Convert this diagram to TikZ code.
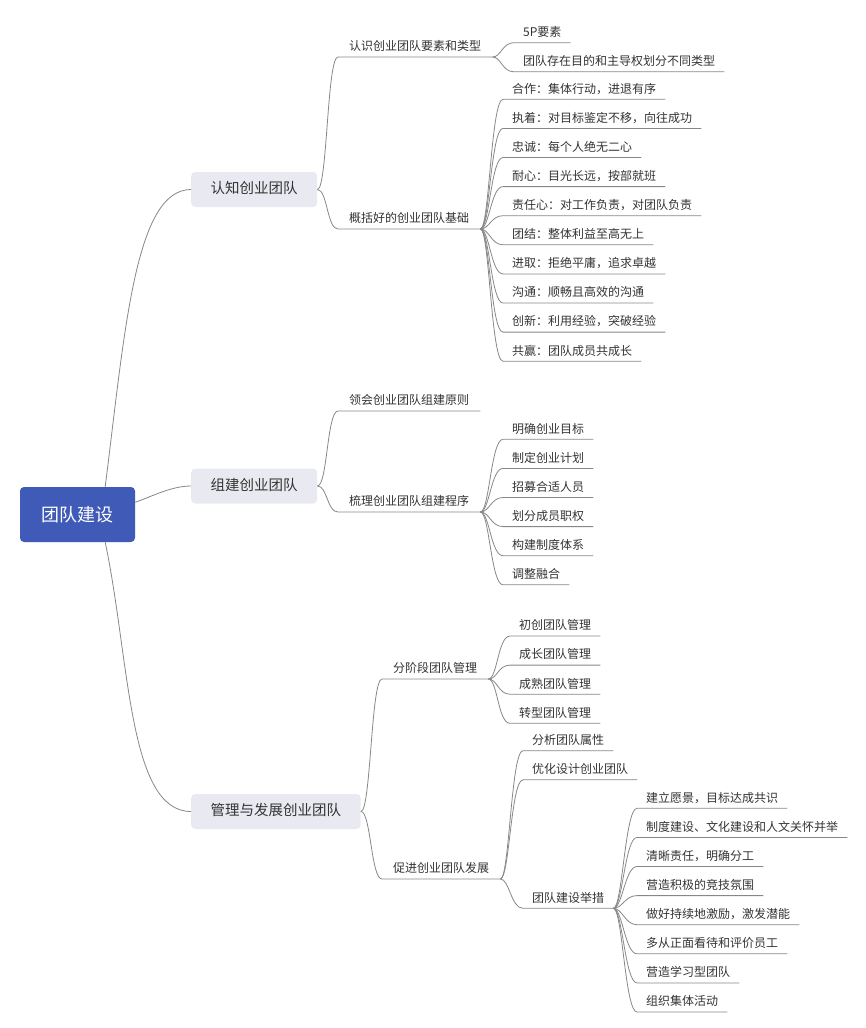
\documentclass[tikz,border=0pt]{standalone}
\usepackage{fontspec}
\usepackage{tikz}
\usetikzlibrary{positioning}
\newfontfamily\cjk{Noto Sans CJK SC}
\definecolor{rootblue}{RGB}{63,91,183}
\definecolor{topicgray}{RGB}{233,234,241}
\definecolor{linegray}{RGB}{135,135,135}
\definecolor{textgray}{RGB}{51,51,51}

\begin{document}
\begin{tikzpicture}[
x=1pt, y=-1pt,
node distance=8.7pt,
root/.style={fill=rootblue, rounded corners=4pt, text=white, font=\cjk\fontsize{18}{20}\selectfont, minimum width=115pt, minimum height=55pt, inner sep=0pt},
topic/.style={fill=topicgray, rounded corners=4pt, text=textgray, font=\cjk\fontsize{14.5}{16}\selectfont, inner xsep=19.5pt, inner ysep=0pt, minimum height=35pt, text height=11pt, text depth=3pt, anchor=west},
sub/.style={text=textgray, font=\cjk\fontsize{12}{14}\selectfont, inner xsep=11pt, inner ysep=4pt, text height=10pt, text depth=2pt, anchor=south west},
leaf/.style={sub, inner xsep=9pt},
link/.style={draw=linegray, line width=0.8pt}
]
\useasboundingbox (0,0) rectangle (865,1028);

\node[root] (root) at (77.5,514.5) {团队建设};
\node[topic] (t1) at (191,189.5) {认知创业团队};
\node[topic] (t2) at (191,486) {组建创业团队};
\node[topic] (t3) at (191,811.5) {管理与发展创业团队};

% second level
\node[sub] (a1) at (338,57) {认识创业团队要素和类型};
\node[sub] (a2) at (338,229) {概括好的创业团队基础};
\node[sub] (b1) at (338,411) {领会创业团队组建原则};
\node[sub] (b2) at (338,512) {梳理创业团队组建程序};
\node[sub] (c1) at (382,679) {分阶段团队管理};
\node[sub] (c2) at (382,879) {促进创业团队发展};

% leaves
\node[leaf] (a11) at (514,42.7) {5P要素};
\node[leaf, below=of a11.south west, anchor=north west] (a12) {团队存在目的和主导权划分不同类型};

\node[leaf] (a21) at (503,99.3) {合作：集体行动，进退有序};
\node[leaf, below=of a21.south west, anchor=north west] (a22) {执着：对目标鉴定不移，向往成功};
\node[leaf, below=of a22.south west, anchor=north west] (a23) {忠诚：每个人绝无二心};
\node[leaf, below=of a23.south west, anchor=north west] (a24) {耐心：目光长远，按部就班};
\node[leaf, below=of a24.south west, anchor=north west] (a25) {责任心：对工作负责，对团队负责};
\node[leaf, below=of a25.south west, anchor=north west] (a26) {团结：整体利益至高无上};
\node[leaf, below=of a26.south west, anchor=north west] (a27) {进取：拒绝平庸，追求卓越};
\node[leaf, below=of a27.south west, anchor=north west] (a28) {沟通：顺畅且高效的沟通};
\node[leaf, below=of a28.south west, anchor=north west] (a29) {创新：利用经验，突破经验};
\node[leaf, below=of a29.south west, anchor=north west] (a210) {共赢：团队成员共成长};

\node[leaf] (b21) at (503,439.3) {明确创业目标};
\node[leaf, below=of b21.south west, anchor=north west] (b22) {制定创业计划};
\node[leaf, below=of b22.south west, anchor=north west] (b23) {招募合适人员};
\node[leaf, below=of b23.south west, anchor=north west] (b24) {划分成员职权};
\node[leaf, below=of b24.south west, anchor=north west] (b25) {构建制度体系};
\node[leaf, below=of b25.south west, anchor=north west] (b26) {调整融合};

\node[leaf] (c11) at (510,636) {初创团队管理};
\node[leaf, below=of c11.south west, anchor=north west] (c12) {成长团队管理};
\node[leaf, below=of c12.south west, anchor=north west] (c13) {成熟团队管理};
\node[leaf, below=of c13.south west, anchor=north west] (c14) {转型团队管理};

\node[leaf] (c21) at (523,750.7) {分析团队属性};
\node[leaf, below=of c21.south west, anchor=north west] (c22) {优化设计创业团队};
\node[leaf] (c23) at (523,908.3) {团队建设举措};

\node[leaf] (d1) at (637,808.3) {建立愿景，目标达成共识};
\node[leaf, below=of d1.south west, anchor=north west] (d2) {制度建设、文化建设和人文关怀并举};
\node[leaf, below=of d2.south west, anchor=north west] (d3) {清晰责任，明确分工};
\node[leaf, below=of d3.south west, anchor=north west] (d4) {营造积极的竞技氛围};
\node[leaf, below=of d4.south west, anchor=north west] (d5) {做好持续地激励，激发潜能};
\node[leaf, below=of d5.south west, anchor=north west] (d6) {多从正面看待和评价员工};
\node[leaf, below=of d6.south west, anchor=north west] (d7) {营造学习型团队};
\node[leaf, below=of d7.south west, anchor=north west] (d8) {组织集体活动};

% connectors
\draw[link] (root.45) .. controls (125,330) and (135,189.5) .. (t1.west);
\draw[link] (root.12) .. controls +(15,-5) and +(-20,0) .. (t2.west);
\draw[link] (root.-45) .. controls (130,660) and (128,811.5) .. (t3.west);

\draw[link] (t1.east) .. controls +(10,0) and +(-11,0) .. (a1.south west) -- (a1.south east);
\draw[link] (t1.east) .. controls +(10,0) and +(-11,0) .. (a2.south west) -- (a2.south east);
\draw[link] (t2.east) .. controls +(10,0) and +(-11,0) .. (b1.south west) -- (b1.south east);
\draw[link] (t2.east) .. controls +(10,0) and +(-11,0) .. (b2.south west) -- (b2.south east);
\draw[link] (t3.east) .. controls +(10,0) and +(-11,0) .. (c1.south west) -- (c1.south east);
\draw[link] (t3.east) .. controls +(10,0) and +(-11,0) .. (c2.south west) -- (c2.south east);

\draw[link] (a1.south east) .. controls +(9,0) and +(-12,0) .. (a11.south west) -- (a11.south east);
\draw[link] (a1.south east) .. controls +(9,0) and +(-12,0) .. (a12.south west) -- (a12.south east);

\draw[link] (a2.south east) .. controls +(9,0) and +(-12,0) .. (a21.south west) -- (a21.south east);
\draw[link] (a2.south east) .. controls +(9,0) and +(-12,0) .. (a22.south west) -- (a22.south east);
\draw[link] (a2.south east) .. controls +(9,0) and +(-12,0) .. (a23.south west) -- (a23.south east);
\draw[link] (a2.south east) .. controls +(9,0) and +(-12,0) .. (a24.south west) -- (a24.south east);
\draw[link] (a2.south east) .. controls +(9,0) and +(-12,0) .. (a25.south west) -- (a25.south east);
\draw[link] (a2.south east) .. controls +(9,0) and +(-12,0) .. (a26.south west) -- (a26.south east);
\draw[link] (a2.south east) .. controls +(9,0) and +(-12,0) .. (a27.south west) -- (a27.south east);
\draw[link] (a2.south east) .. controls +(9,0) and +(-12,0) .. (a28.south west) -- (a28.south east);
\draw[link] (a2.south east) .. controls +(9,0) and +(-12,0) .. (a29.south west) -- (a29.south east);
\draw[link] (a2.south east) .. controls +(9,0) and +(-12,0) .. (a210.south west) -- (a210.south east);

\draw[link] (b2.south east) .. controls +(9,0) and +(-12,0) .. (b21.south west) -- (b21.south east);
\draw[link] (b2.south east) .. controls +(9,0) and +(-12,0) .. (b22.south west) -- (b22.south east);
\draw[link] (b2.south east) .. controls +(9,0) and +(-12,0) .. (b23.south west) -- (b23.south east);
\draw[link] (b2.south east) .. controls +(9,0) and +(-12,0) .. (b24.south west) -- (b24.south east);
\draw[link] (b2.south east) .. controls +(9,0) and +(-12,0) .. (b25.south west) -- (b25.south east);
\draw[link] (b2.south east) .. controls +(9,0) and +(-12,0) .. (b26.south west) -- (b26.south east);

\draw[link] (c1.south east) .. controls +(9,0) and +(-12,0) .. (c11.south west) -- (c11.south east);
\draw[link] (c1.south east) .. controls +(9,0) and +(-12,0) .. (c12.south west) -- (c12.south east);
\draw[link] (c1.south east) .. controls +(9,0) and +(-12,0) .. (c13.south west) -- (c13.south east);
\draw[link] (c1.south east) .. controls +(9,0) and +(-12,0) .. (c14.south west) -- (c14.south east);

\draw[link] (c2.south east) .. controls +(9,0) and +(-12,0) .. (c21.south west) -- (c21.south east);
\draw[link] (c2.south east) .. controls +(9,0) and +(-12,0) .. (c22.south west) -- (c22.south east);
\draw[link] (c2.south east) .. controls +(9,0) and +(-12,0) .. (c23.south west) -- (c23.south east);

\draw[link] (c23.south east) .. controls +(9,0) and +(-12,0) .. (d1.south west) -- (d1.south east);
\draw[link] (c23.south east) .. controls +(9,0) and +(-12,0) .. (d2.south west) -- (d2.south east);
\draw[link] (c23.south east) .. controls +(9,0) and +(-12,0) .. (d3.south west) -- (d3.south east);
\draw[link] (c23.south east) .. controls +(9,0) and +(-12,0) .. (d4.south west) -- (d4.south east);
\draw[link] (c23.south east) .. controls +(9,0) and +(-12,0) .. (d5.south west) -- (d5.south east);
\draw[link] (c23.south east) .. controls +(9,0) and +(-12,0) .. (d6.south west) -- (d6.south east);
\draw[link] (c23.south east) .. controls +(9,0) and +(-12,0) .. (d7.south west) -- (d7.south east);
\draw[link] (c23.south east) .. controls +(9,0) and +(-12,0) .. (d8.south west) -- (d8.south east);
\end{tikzpicture}
\end{document}
